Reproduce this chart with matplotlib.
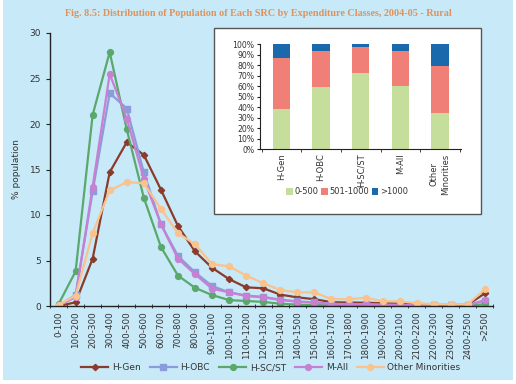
import numpy as np
import matplotlib.pyplot as plt
from matplotlib.patches import Rectangle

# expenditure classes (Rs per month)
classes = ['0-100', '100-200', '200-300', '300-400', '400-500', '500-600', '600-700',
           '700-800', '800-900', '900-1000', '1000-1100', '1100-1200', '1200-1300',
           '1300-1400', '1400-1500', '1500-1600', '1600-1700', '1700-1800', '1800-1900',
           '1900-2000', '2000-2100', '2100-2200', '2200-2300', '2300-2400', '2400-2500', '>2500']

h_gen = [0.0, 0.4, 5.2, 14.7, 18.0, 16.6, 12.8, 8.8, 6.0, 4.2, 2.95, 2.05, 1.95, 1.25,
         0.95, 0.75, 0.42, 0.38, 0.36, 0.3, 0.26, 0.22, 0.15, 0.15, 0.15, 1.4]
h_obc = [0.0, 1.2, 12.6, 23.4, 21.7, 14.7, 9.0, 5.5, 3.7, 2.2, 1.5, 1.15, 1.0, 0.7,
         0.5, 0.4, 0.25, 0.2, 0.2, 0.15, 0.12, 0.1, 0.08, 0.08, 0.08, 0.6]
h_scst = [0.2, 3.8, 21.0, 27.9, 19.4, 11.9, 6.5, 3.35, 2.0, 1.2, 0.65, 0.55, 0.45, 0.25,
          0.15, 0.1, 0.08, 0.06, 0.05, 0.05, 0.04, 0.04, 0.03, 0.03, 0.03, 0.2]
m_all = [0.0, 1.0, 13.1, 25.5, 20.6, 14.0, 9.0, 5.2, 3.5, 1.9, 1.5, 1.1, 0.95, 0.65,
         0.48, 0.37, 0.22, 0.18, 0.18, 0.13, 0.12, 0.1, 0.08, 0.08, 0.08, 0.65]
oth_min = [0.1, 1.15, 8.0, 12.7, 13.6, 13.5, 10.7, 8.0, 6.8, 4.6, 4.35, 3.35, 2.5, 1.75,
           1.5, 1.5, 0.75, 0.75, 0.9, 0.52, 0.52, 0.3, 0.22, 0.2, 0.2, 1.85]

# inset: share of population by expenditure group (%)
groups = ['H-Gen', 'H-OBC', 'H-SC/ST', 'M-All', 'Other\nMinorities']
low = [38.3, 59.2, 72.8, 60.1, 34.8]
mid = [48.4, 34.2, 24.4, 33.3, 44.3]
high = [13.3, 6.6, 2.8, 6.6, 20.9]

bg = '#c8e9f8'
txt = '#333333'

fig = plt.figure(figsize=(5.16, 3.84), dpi=100, facecolor='white')
fig.patches.append(Rectangle((3/516, 4/384), 510/516, 380/384, transform=fig.transFigure,
                             facecolor=bg, edgecolor='none', zorder=-10))

fig.text(0.5, 1 - 14/384, 'Fig. 8.5: Distribution of Population of Each SRC by Expenditure Classes, 2004-05 - Rural',
         ha='center', va='center', fontsize=7.3, fontweight='bold', color='#e0925a',
         family='Liberation Serif')

ax = fig.add_axes([50/516, 78/384, 443.5/516, 273/384])
ax.set_facecolor('none')
x = np.arange(len(classes))
series = [
    (h_gen, 'H-Gen', '#8b3b2b', 'D', 3.2),
    (h_obc, 'H-OBC', '#8c9bd9', 's', 4.2),
    (h_scst, 'H-SC/ST', '#5aa86b', 'o', 4.2),
    (m_all, 'M-All', '#c780d2', 'o', 4.2),
    (oth_min, 'Other Minorities', '#fac28d', 'o', 4.2),
]
for vals, name, col, mk, ms in series:
    ax.plot(x, vals, color=col, marker=mk, markersize=ms, lw=1.6, label=name)

ax.set_xlim(-0.5, len(classes) - 0.5)
ax.set_ylim(0, 30)
ax.set_yticks(range(0, 31, 5))
ax.set_xticks(x)
ax.set_xticklabels(classes, rotation=90, fontsize=6.3, color=txt)
ax.set_xticks(np.arange(-0.5, len(classes)), minor=True)
ax.tick_params(axis='x', which='major', length=0, pad=4)
ax.tick_params(axis='x', which='minor', length=3, direction='inout', color='#222222')
ax.tick_params(axis='y', labelsize=6.5, labelcolor=txt, length=3, color='#222222')
for s in ['top', 'right']:
    ax.spines[s].set_visible(False)
for s in ['left', 'bottom']:
    ax.spines[s].set_color('#222222')
    ax.spines[s].set_linewidth(1.0)
ax.set_ylabel('% population', fontsize=6.5, color=txt, labelpad=6)

ax.legend(loc='center', bbox_to_anchor=(271/516, 1 - 368/384), bbox_transform=fig.transFigure,
          ncol=5, frameon=False, fontsize=6.5, handlelength=3, columnspacing=1.0,
          handletextpad=0.4, labelcolor=txt)

# inset with stacked bars, on a white framed box
fig.patches.append(Rectangle((214/516, 1 - 214/384), 267/516, 186/384, transform=fig.transFigure,
                             facecolor='white', edgecolor='#555555', lw=1.0, zorder=-5))
ax2 = fig.add_axes([260/516, 1 - 149.3/384, 201/516, 105.3/384])
ax2.set_facecolor('white')
gx = np.arange(len(groups))
w = 0.44
ax2.bar(gx, low, w, color='#c5de9c', label='0-500')
ax2.bar(gx, mid, w, bottom=low, color='#f08077', label='501-1000')
ax2.bar(gx, high, w, bottom=np.add(low, mid), color='#1b69ad', label='>1000')
ax2.set_xlim(-0.54, 4.53)
ax2.set_ylim(0, 100)
ax2.set_yticks(range(0, 101, 10))
ax2.set_yticklabels(['%d%%' % v for v in range(0, 101, 10)])
ax2.set_xticks(gx)
ax2.set_xticklabels(groups, rotation=90, fontsize=6, color=txt, linespacing=1.3)
ax2.set_xticks(np.arange(-0.5, len(groups)), minor=True)
ax2.tick_params(axis='x', which='major', length=0, pad=3)
ax2.tick_params(axis='x', which='minor', length=2.5, color='#222222')
ax2.tick_params(axis='y', labelsize=5.6, labelcolor=txt, length=2.5, color='#222222', pad=1.5)
for s in ['top', 'right']:
    ax2.spines[s].set_visible(False)
for s in ['left', 'bottom']:
    ax2.spines[s].set_color('#222222')
    ax2.spines[s].set_linewidth(0.8)
ax2.legend(loc='center', bbox_to_anchor=(347/516, 1 - 192/384), bbox_transform=fig.transFigure,
           ncol=3, frameon=False, fontsize=6, handlelength=0.8, handleheight=0.8,
           handletextpad=0.2, columnspacing=0.3, labelcolor=txt)

fig.savefig('out.png', dpi=100, facecolor=fig.get_facecolor())
